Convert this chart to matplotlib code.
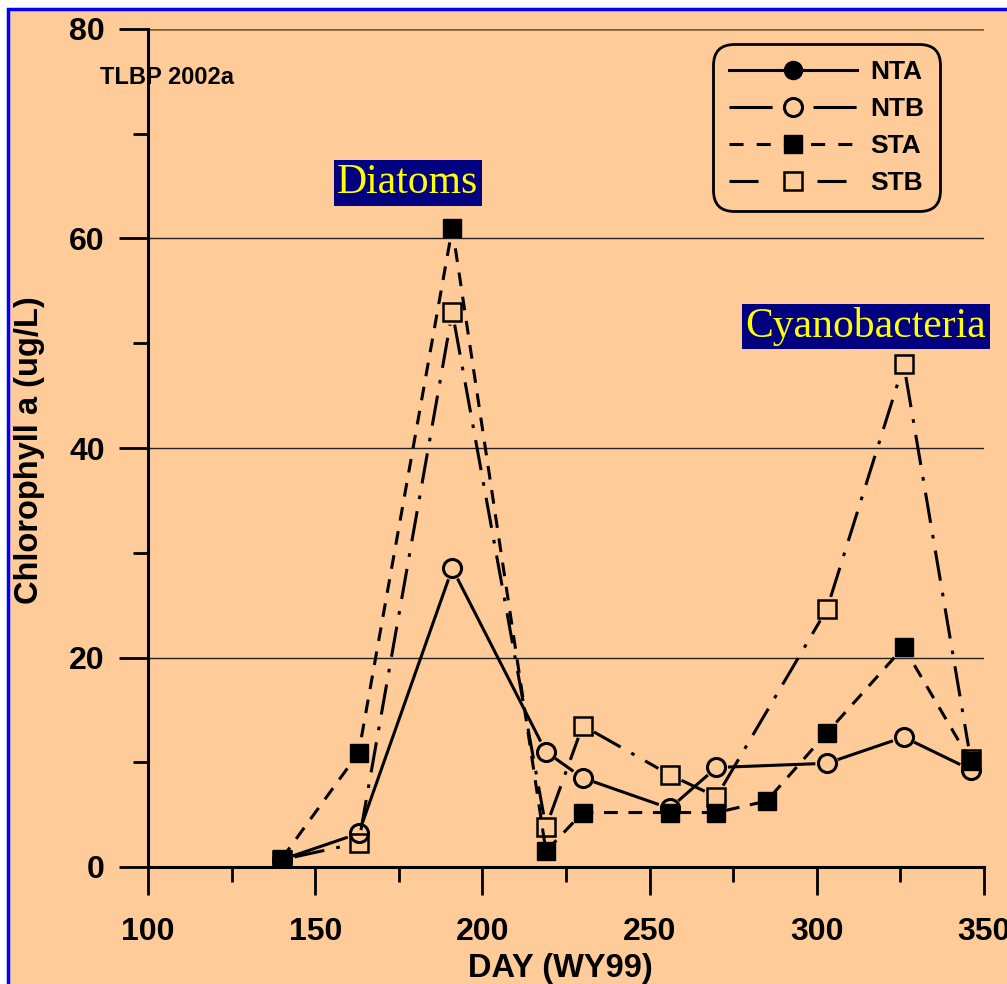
import matplotlib
matplotlib.use("Agg")
import numpy as np
import matplotlib.pyplot as plt
from matplotlib.patches import Rectangle
from matplotlib.lines import Line2D
from matplotlib.ticker import MultipleLocator

# data
nta_day = [140]
nta_chl = [0.7]

ntb_day = [140, 163, 191, 219, 230, 256, 270, 303, 326, 346]
ntb_chl = [0.7, 3.2, 28.5, 11.0, 8.5, 5.6, 9.5, 9.9, 12.4, 9.3]

sta_day = [140, 163, 191, 219, 230, 256, 270, 285, 303, 326, 346]
sta_chl = [0.8, 10.9, 61.0, 1.5, 5.2, 5.2, 5.2, 6.3, 12.8, 21.0, 10.1]

stb_day = [140, 163, 191, 219, 230, 256, 270, 303, 326, 346]
stb_chl = [0.7, 2.3, 53.0, 3.8, 13.5, 8.8, 6.7, 24.6, 48.0, 10.3]

peach = "#FFCC99"
font = "Liberation Sans"

fig = plt.figure(figsize=(10.07, 9.84), dpi=100, facecolor="white")
# peach panel with blue border, behind the axes
panel = Rectangle((8 / 1007, -0.01), 1.0, 1.01 - 9 / 984, transform=fig.transFigure,
                  facecolor=peach, edgecolor="#0000FF", linewidth=2.5, zorder=-5)
fig.add_artist(panel)

ax = fig.add_axes([148 / 1007, 1 - 867 / 984, 836 / 1007, 838 / 984])
ax.set_facecolor("none")
ax.set_xlim(100, 350)
ax.set_ylim(0, 80)


def gapped(xs, ys, gap, **kw):
    # connect the points, leaving a small gap (in pixels) next to each marker
    pts = ax.transData.transform(np.column_stack([xs, ys]))
    inv = ax.transData.inverted()
    for p0, p1 in zip(pts[:-1], pts[1:]):
        d = p1 - p0
        L = np.hypot(*d)
        if L <= 2 * gap:
            continue
        u = d / L
        seg = inv.transform([p0 + u * gap, p1 - u * gap])
        ax.plot(seg[:, 0], seg[:, 1], **kw)


# gridlines
for g in [20, 40, 60]:
    ax.axhline(g, color="#222222", lw=1.0, zorder=1)
ax.axhline(80, color="#7a5a3a", lw=1.8, zorder=1)

ms = 13
lw = 2.2
ntb_ls = "-"
sta_ls = (0, (4.5, 3.5))
stb_ls = (0, (10, 4, 1.2, 4))

gapped(ntb_day, ntb_chl, 13, color="black", lw=lw, ls=ntb_ls, zorder=3)
gapped(stb_day, stb_chl, 13, color="black", lw=lw, ls=stb_ls, zorder=3)
ax.plot(sta_day, sta_chl, color="black", lw=lw, ls=sta_ls, zorder=3)

ax.plot(nta_day, nta_chl, ls="none", marker="o", ms=ms, mfc="black", mec="black", zorder=4)
ax.plot(ntb_day, ntb_chl, ls="none", marker="o", ms=ms, mfc="none", mec="black", mew=2.2, zorder=4)
ax.plot(stb_day, stb_chl, ls="none", marker="s", ms=ms, mfc="none", mec="black", mew=1.8, zorder=5)
ax.plot(sta_day, sta_chl, ls="none", marker="s", ms=ms, mfc="black", mec="black", zorder=6)

# spines and ticks
for s in ["top", "right"]:
    ax.spines[s].set_visible(False)
ax.spines["left"].set_linewidth(2.2)
ax.spines["bottom"].set_linewidth(2.2)
ax.spines["bottom"].set_zorder(7)

ax.xaxis.set_major_locator(MultipleLocator(50))
ax.xaxis.set_minor_locator(MultipleLocator(25))
ax.yaxis.set_major_locator(MultipleLocator(20))
ax.yaxis.set_minor_locator(MultipleLocator(10))
ax.tick_params(axis="x", which="major", direction="out", length=20, width=2, pad=16)
ax.tick_params(axis="x", which="minor", direction="out", length=11, width=2)
ax.tick_params(axis="y", which="major", direction="out", length=21, width=2, pad=10)
ax.tick_params(axis="y", which="minor", direction="out", length=11, width=2)
for lab in ax.get_xticklabels() + ax.get_yticklabels():
    lab.set_fontfamily(font)
    lab.set_fontweight("bold")
    lab.set_fontsize(23)

ax.set_xlabel("DAY (WY99)", fontfamily=font, fontweight="bold", fontsize=23.5)
ax.set_ylabel("Chlorophyll a (ug/L)", fontfamily=font, fontweight="bold", fontsize=23.5)
ax.xaxis.set_label_coords((560 - 148) / 836, -(953 - 867) / 838)
ax.yaxis.set_label_coords(-(148 - 45) / 836, (867 - 450) / 838)

fig.text(100 / 1007, 1 - 78 / 984, "TLBP 2002a", fontfamily=font, fontweight="bold",
         fontsize=17, ha="left", va="center")

# group labels
box = dict(boxstyle="square,pad=0.08", facecolor="#000080", edgecolor="none")
ax.text(177.7, 65.3, "Diatoms", fontfamily="Liberation Serif", fontsize=30, color="#FFFF00",
        ha="center", va="center", bbox=box, zorder=8)
ax.text(314.7, 51.6, "Cyanobacteria", fontfamily="Liberation Serif", fontsize=30, color="#FFFF00",
        ha="center", va="center", bbox=box, zorder=8)

# legend proxies: the dash patterns leave a gap around the marker like the original
names = ["NTA", "NTB", "STA", "STB"]
handles = [
    Line2D([], [], color="black", lw=lw, ls="-", marker="o", ms=ms, mfc="black", mec="black"),
    Line2D([], [], color="black", lw=lw, ls=(0, (14.1, 13.4)), marker="o", ms=ms,
           mfc="none", mec="black", mew=2.2),
    Line2D([], [], color="black", lw=lw, ls=(0, (4.6, 4.3)), marker="s", ms=ms,
           mfc="black", mec="black"),
    Line2D([], [], color="black", lw=lw, ls=(0, (9.5, 19.3)), marker="s", ms=ms,
           mfc="none", mec="black", mew=1.8),
]
leg = ax.legend(handles, names,
                loc="upper right", bbox_to_anchor=((940 - 148) / 836, (867 - 44) / 838),
                borderaxespad=0, handlelength=4.85, handletextpad=0.5, labelspacing=0.5,
                borderpad=0.6, fancybox=True, framealpha=1, facecolor=peach, edgecolor="black",
                prop={"family": font, "weight": "bold", "size": 19})
leg.get_frame().set_linewidth(2)
leg.get_frame().set_boxstyle("round", pad=0, rounding_size=0.8)
leg.set_zorder(9)

fig.savefig("out.png", dpi=100, facecolor="white")
